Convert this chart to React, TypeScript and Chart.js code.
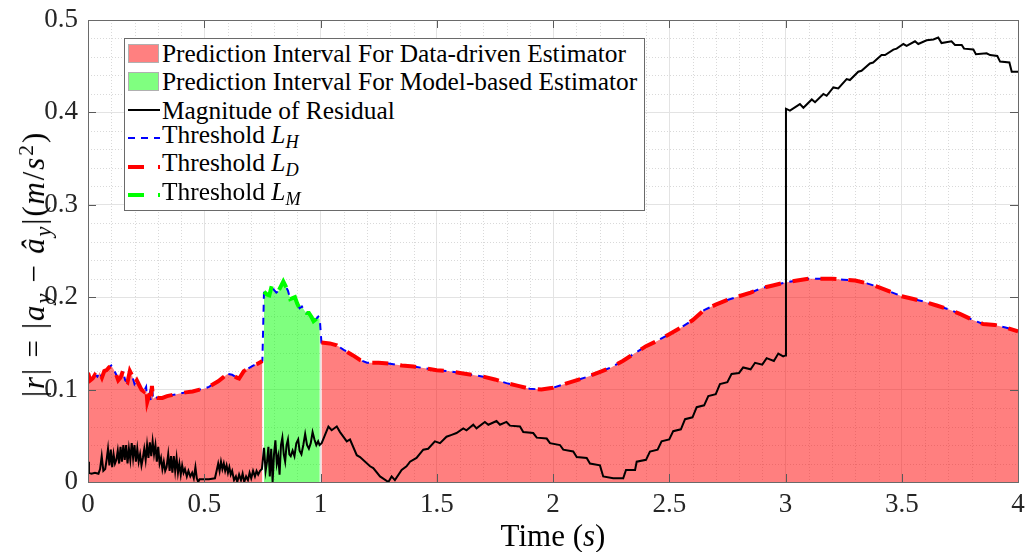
import React, { useEffect, useRef } from "react";
import { Chart, registerables } from "chart.js";

Chart.register(...registerables);

// ---------- data ----------
// Data-driven threshold L_D (segment 1: 0 - 0.75 s)
const thrTime1 = [0.0, 0.01, 0.02, 0.03, 0.04, 0.05, 0.06, 0.07, 0.08, 0.09, 0.1, 0.11, 0.12, 0.13, 0.14, 0.15, 0.16, 0.17, 0.18, 0.19, 0.2, 0.21, 0.22, 0.23, 0.24, 0.25, 0.255, 0.265, 0.27, 0.275, 0.28, 0.29, 0.3, 0.32, 0.34, 0.36, 0.38, 0.4, 0.42, 0.45, 0.48, 0.5, 0.52, 0.54, 0.56, 0.58, 0.6, 0.62, 0.64, 0.65, 0.67, 0.69, 0.71, 0.73, 0.75];
const thrVal1 = [0.118, 0.11, 0.112, 0.116, 0.114, 0.119, 0.113, 0.12, 0.121, 0.124, 0.126, 0.122, 0.117, 0.11, 0.113, 0.12, 0.11, 0.108, 0.12, 0.115, 0.106, 0.11, 0.105, 0.1, 0.098, 0.103, 0.087, 0.096, 0.088, 0.104, 0.09, 0.092, 0.091, 0.091, 0.093, 0.094, 0.095, 0.096, 0.097, 0.098, 0.1, 0.101, 0.103, 0.106, 0.109, 0.113, 0.117, 0.116, 0.113, 0.112, 0.12, 0.123, 0.126, 0.128, 0.131];
// Model-based threshold L_M (0.75 - 1.0 s)
const modTime = [0.757, 0.77, 0.78, 0.79, 0.8, 0.81, 0.82, 0.83, 0.84, 0.85, 0.86, 0.87, 0.88, 0.89, 0.9, 0.91, 0.92, 0.93, 0.94, 0.95, 0.96, 0.97, 0.98, 0.99, 0.997];
const modVal = [0.206, 0.203, 0.202, 0.212, 0.208, 0.205, 0.207, 0.212, 0.217, 0.212, 0.207, 0.198, 0.199, 0.2, 0.193, 0.188, 0.19, 0.186, 0.183, 0.183, 0.179, 0.174, 0.176, 0.179, 0.176];
// Data-driven threshold L_D (segment 2: 1.0 - 4.0 s)
const thrTime2 = [1.004, 1.04, 1.07, 1.1, 1.14, 1.17, 1.2, 1.25, 1.3, 1.35, 1.4, 1.45, 1.5, 1.55, 1.6, 1.65, 1.7, 1.75, 1.8, 1.85, 1.9, 1.95, 2.0, 2.05, 2.1, 2.15, 2.2, 2.25, 2.3, 2.35, 2.4, 2.45, 2.5, 2.55, 2.6, 2.65, 2.7, 2.75, 2.8, 2.85, 2.9, 2.95, 3.0, 3.05, 3.1, 3.15, 3.2, 3.25, 3.3, 3.35, 3.4, 3.45, 3.5, 3.55, 3.6, 3.65, 3.7, 3.75, 3.8, 3.85, 3.9, 3.95, 4.0];
const thrVal2 = [0.151, 0.15, 0.148, 0.143, 0.137, 0.132, 0.129, 0.129, 0.128, 0.126, 0.125, 0.123, 0.121, 0.12, 0.118, 0.116, 0.114, 0.111, 0.107, 0.104, 0.101, 0.1, 0.102, 0.106, 0.11, 0.114, 0.119, 0.124, 0.131, 0.139, 0.147, 0.153, 0.16, 0.167, 0.175, 0.186, 0.192, 0.197, 0.201, 0.205, 0.21, 0.213, 0.216, 0.218, 0.22, 0.22, 0.22, 0.219, 0.218, 0.215, 0.211, 0.206, 0.201, 0.198, 0.195, 0.191, 0.187, 0.182, 0.176, 0.171, 0.17, 0.167, 0.163];
// Magnitude of residual
const resTime = [0.0, 0.004, 0.015, 0.03, 0.045, 0.052, 0.059, 0.066, 0.074, 0.08, 0.086, 0.092, 0.098, 0.104, 0.11, 0.116, 0.122, 0.128, 0.134, 0.14, 0.146, 0.152, 0.158, 0.164, 0.17, 0.176, 0.182, 0.188, 0.194, 0.2, 0.206, 0.212, 0.218, 0.224, 0.23, 0.236, 0.242, 0.248, 0.254, 0.26, 0.266, 0.272, 0.278, 0.284, 0.29, 0.296, 0.302, 0.308, 0.314, 0.32, 0.326, 0.332, 0.338, 0.345, 0.351, 0.357, 0.363, 0.369, 0.375, 0.381, 0.387, 0.393, 0.399, 0.405, 0.411, 0.417, 0.425, 0.432, 0.44, 0.448, 0.455, 0.462, 0.468, 0.474, 0.48, 0.5, 0.52, 0.546, 0.553, 0.56, 0.566, 0.572, 0.578, 0.584, 0.59, 0.596, 0.602, 0.608, 0.614, 0.62, 0.628, 0.636, 0.642, 0.65, 0.658, 0.665, 0.672, 0.68, 0.688, 0.695, 0.702, 0.71, 0.718, 0.725, 0.732, 0.74, 0.748, 0.757, 0.764, 0.77, 0.776, 0.782, 0.788, 0.794, 0.8, 0.806, 0.812, 0.818, 0.824, 0.83, 0.836, 0.842, 0.848, 0.854, 0.86, 0.866, 0.872, 0.88, 0.888, 0.896, 0.904, 0.91, 0.918, 0.926, 0.934, 0.942, 0.95, 0.958, 0.966, 0.974, 0.982, 0.99, 0.996, 1.005, 1.034, 1.048, 1.07, 1.084, 1.113, 1.127, 1.156, 1.17, 1.213, 1.227, 1.256, 1.292, 1.306, 1.32, 1.349, 1.37, 1.385, 1.413, 1.442, 1.463, 1.492, 1.514, 1.542, 1.564, 1.585, 1.614, 1.628, 1.657, 1.671, 1.707, 1.722, 1.757, 1.772, 1.8, 1.815, 1.858, 1.872, 1.915, 1.93, 1.973, 1.987, 2.03, 2.044, 2.087, 2.102, 2.145, 2.159, 2.202, 2.216, 2.259, 2.302, 2.314, 2.353, 2.36, 2.4, 2.417, 2.45, 2.467, 2.5, 2.517, 2.55, 2.568, 2.6, 2.618, 2.65, 2.668, 2.7, 2.718, 2.75, 2.768, 2.8, 2.818, 2.85, 2.869, 2.9, 2.919, 2.95, 2.969, 2.99, 3.0, 3.002, 3.019, 3.062, 3.077, 3.113, 3.127, 3.163, 3.177, 3.206, 3.227, 3.263, 3.277, 3.313, 3.327, 3.363, 3.377, 3.413, 3.428, 3.464, 3.478, 3.507, 3.521, 3.557, 3.571, 3.607, 3.636, 3.657, 3.671, 3.714, 3.729, 3.758, 3.768, 3.808, 3.819, 3.865, 3.88, 3.911, 3.923, 3.963, 3.973, 4.0];
const resVal = [0.022, 0.01, 0.009, 0.01, 0.009, 0.014, 0.028, 0.012, 0.014, 0.024, 0.036, 0.018, 0.035, 0.016, 0.03, 0.02, 0.024, 0.034, 0.02, 0.038, 0.022, 0.04, 0.024, 0.04, 0.02, 0.036, 0.024, 0.042, 0.026, 0.04, 0.022, 0.036, 0.022, 0.03, 0.018, 0.026, 0.036, 0.024, 0.04, 0.026, 0.043, 0.028, 0.044, 0.03, 0.04, 0.022, 0.038, 0.02, 0.026, 0.014, 0.022, 0.012, 0.016, 0.03, 0.012, 0.028, 0.01, 0.028, 0.012, 0.026, 0.01, 0.02, 0.008, 0.018, 0.01, 0.014, 0.006, 0.012, 0.006, 0.01, 0.004, 0.016, 0.004, 0.0, 0.003, 0.003, 0.003, 0.004, 0.012, 0.02, 0.012, 0.022, 0.014, 0.02, 0.012, 0.018, 0.01, 0.016, 0.008, 0.012, 0.002, 0.006, 0.0, 0.008, 0.002, 0.009, 0.0, 0.006, 0.002, 0.01, 0.004, 0.012, 0.006, 0.012, 0.008, 0.012, 0.014, 0.037, 0.012, 0.022, 0.038, 0.006, 0.036, 0.0, 0.03, 0.045, 0.02, 0.028, 0.008, 0.04, 0.048, 0.03, 0.022, 0.04, 0.046, 0.03, 0.028, 0.034, 0.028, 0.042, 0.046, 0.034, 0.03, 0.04, 0.052, 0.04, 0.036, 0.042, 0.054, 0.046, 0.04, 0.044, 0.04, 0.042, 0.06, 0.056, 0.06, 0.054, 0.044, 0.046, 0.029, 0.027, 0.017, 0.015, 0.006, 0.0, 0.006, 0.002, 0.013, 0.017, 0.022, 0.026, 0.035, 0.036, 0.044, 0.042, 0.049, 0.051, 0.053, 0.058, 0.056, 0.062, 0.058, 0.065, 0.062, 0.066, 0.062, 0.065, 0.061, 0.06, 0.054, 0.053, 0.048, 0.047, 0.042, 0.04, 0.035, 0.033, 0.027, 0.026, 0.02, 0.018, 0.006, 0.004, 0.004, 0.013, 0.013, 0.022, 0.024, 0.033, 0.035, 0.044, 0.046, 0.055, 0.057, 0.068, 0.07, 0.081, 0.083, 0.093, 0.095, 0.106, 0.108, 0.117, 0.118, 0.124, 0.122, 0.129, 0.127, 0.134, 0.131, 0.139, 0.136, 0.137, 0.404, 0.402, 0.409, 0.405, 0.414, 0.411, 0.42, 0.418, 0.427, 0.426, 0.436, 0.435, 0.444, 0.445, 0.453, 0.454, 0.462, 0.462, 0.468, 0.469, 0.474, 0.472, 0.477, 0.474, 0.478, 0.479, 0.481, 0.475, 0.477, 0.473, 0.473, 0.469, 0.468, 0.463, 0.464, 0.462, 0.461, 0.455, 0.454, 0.444, 0.444];

const xMin = 0;
const xMax = 4;
const yMin = 0;
const yMax = 0.5;
const xMajorStep = 0.5;
const yMajorStep = 0.1;
const xMinorStep = 0.1;
const yMinorStep = 0.02;

const SERIF = '"Liberation Serif", "DejaVu Serif", serif';
const AXIS_COLOR = "#262626";

const pts = (t: number[], v: number[]) => t.map((x, i) => ({ x, y: v[i] }));
const fmt = (v: any) => String(Math.round(Number(v) * 1000) / 1000);

// minor grid (dotted), inner tick marks and axes box
const axesPlugin = {
  id: "matlabAxes",
  beforeDatasetsDraw(chart: any) {
    const { ctx, chartArea: a, scales } = chart;
    const xs = scales.x;
    const ys = scales.y;
    ctx.save();
    ctx.strokeStyle = "#d9d9d9";
    ctx.lineWidth = 1;
    ctx.setLineDash([1, 2]);
    const nx = Math.round((xMax - xMin) / xMinorStep);
    for (let i = 1; i < nx; i++) {
      if (i % 5 === 0) continue;
      const px = Math.round(xs.getPixelForValue(xMin + i * xMinorStep)) + 0.5;
      ctx.beginPath();
      ctx.moveTo(px, a.top);
      ctx.lineTo(px, a.bottom);
      ctx.stroke();
    }
    const ny = Math.round((yMax - yMin) / yMinorStep);
    for (let i = 1; i < ny; i++) {
      if (i % 5 === 0) continue;
      const py = Math.round(ys.getPixelForValue(yMin + i * yMinorStep)) + 0.5;
      ctx.beginPath();
      ctx.moveTo(a.left, py);
      ctx.lineTo(a.right, py);
      ctx.stroke();
    }
    ctx.restore();
  },
  afterDatasetsDraw(chart: any) {
    const { ctx, chartArea: a, scales } = chart;
    const xs = scales.x;
    const ys = scales.y;
    ctx.save();
    ctx.strokeStyle = "#5a5a5a";
    ctx.lineWidth = 1;
    ctx.setLineDash([]);
    const tl = 8;
    const nx = Math.round((xMax - xMin) / xMajorStep);
    for (let i = 1; i < nx; i++) {
      const px = Math.round(xs.getPixelForValue(xMin + i * xMajorStep)) + 0.5;
      ctx.beginPath();
      ctx.moveTo(px, a.bottom);
      ctx.lineTo(px, a.bottom - tl);
      ctx.moveTo(px, a.top);
      ctx.lineTo(px, a.top + tl);
      ctx.stroke();
    }
    const ny = Math.round((yMax - yMin) / yMajorStep);
    for (let i = 1; i < ny; i++) {
      const py = Math.round(ys.getPixelForValue(yMin + i * yMajorStep)) + 0.5;
      ctx.beginPath();
      ctx.moveTo(a.left, py);
      ctx.lineTo(a.left + tl, py);
      ctx.moveTo(a.right, py);
      ctx.lineTo(a.right - tl, py);
      ctx.stroke();
    }
    ctx.strokeStyle = "#6a6a6a";
    ctx.strokeRect(Math.round(a.left) + 0.5, Math.round(a.top) + 0.5, Math.round(a.right - a.left), Math.round(a.bottom - a.top));
    ctx.restore();
  },
};

function LineSwatch({ color, width, dash }: { color: string; width: number; dash?: string }) {
  return (
    <svg width={32} height={12} style={{ display: "block" }}>
      <line x1={0} y1={6} x2={32} y2={6} stroke={color} strokeWidth={width} strokeDasharray={dash} />
    </svg>
  );
}

function PatchSwatch({ color }: { color: string }) {
  return <div style={{ width: 31, height: 19, background: color, border: "1px solid #b0b0b0", boxSizing: "border-box" }} />;
}

const sub: React.CSSProperties = { fontSize: "0.72em", verticalAlign: "-0.3em", fontStyle: "italic" };
const op: React.CSSProperties = { margin: "0 0.3em" };

export default function App() {
  const canvasRef = useRef<HTMLCanvasElement | null>(null);

  useEffect(() => {
    const canvas = canvasRef.current;
    if (!canvas) return;
    const lH = [...pts(thrTime1, thrVal1), ...pts(modTime, modVal), ...pts(thrTime2, thrVal2)];
    const chart = new Chart(canvas, {
      type: "line",
      data: {
        datasets: [
          {
            label: "Threshold L_D (a)",
            data: pts(thrTime1, thrVal1),
            borderColor: "#ff0000",
            borderWidth: 4,
            borderDash: [16, 12],
            pointRadius: 0,
            fill: false,
            order: 1,
          },
          {
            label: "Threshold L_D (b)",
            data: pts(thrTime2, thrVal2),
            borderColor: "#ff0000",
            borderWidth: 4,
            borderDash: [16, 12],
            pointRadius: 0,
            fill: false,
            order: 1,
          },
          {
            label: "Threshold L_M",
            data: pts(modTime, modVal),
            borderColor: "#00ff00",
            borderWidth: 4,
            borderDash: [16, 12],
            pointRadius: 0,
            fill: false,
            order: 1,
          },
          {
            label: "Threshold L_H",
            data: lH,
            borderColor: "#0000ff",
            borderWidth: 2,
            borderDash: [7, 6],
            pointRadius: 0,
            fill: false,
            order: 2,
          },
          {
            label: "Magnitude of Residual",
            data: pts(resTime, resVal),
            borderColor: "#000000",
            borderWidth: 2,
            pointRadius: 0,
            fill: false,
            order: 3,
          },
          {
            label: "PI Data-driven (a)",
            data: pts(thrTime1, thrVal1),
            borderWidth: 0,
            borderColor: "rgba(0,0,0,0)",
            backgroundColor: "rgba(255,0,0,0.5)",
            pointRadius: 0,
            fill: "origin",
            order: 10,
          },
          {
            label: "PI Data-driven (b)",
            data: pts(thrTime2, thrVal2),
            borderWidth: 0,
            borderColor: "rgba(0,0,0,0)",
            backgroundColor: "rgba(255,0,0,0.5)",
            pointRadius: 0,
            fill: "origin",
            order: 10,
          },
          {
            label: "PI Model-based",
            data: pts(modTime, modVal),
            borderWidth: 0,
            borderColor: "rgba(0,0,0,0)",
            backgroundColor: "rgba(0,255,0,0.5)",
            pointRadius: 0,
            fill: "origin",
            order: 10,
          },
        ],
      },
      options: {
        animation: false,
        responsive: false,
        maintainAspectRatio: false,
        layout: { padding: { left: 0, top: 20, right: 8, bottom: 0 } },
        plugins: { legend: { display: false }, tooltip: { enabled: false } },
        elements: { line: { tension: 0, borderCapStyle: "butt", borderJoinStyle: "miter" } },
        scales: {
          x: {
            type: "linear",
            min: xMin,
            max: xMax,
            border: { display: false },
            grid: { color: "#e3e3e3", lineWidth: 1, drawTicks: false },
            ticks: {
              stepSize: xMajorStep,
              maxRotation: 0,
              padding: 7,
              color: AXIS_COLOR,
              font: { family: SERIF, size: 27 },
              callback: (v: any) => fmt(v),
            },
            afterFit: (s: any) => {
              s.height = 70;
              s.paddingRight = 0;
              s.paddingLeft = 0;
            },
          },
          y: {
            type: "linear",
            min: yMin,
            max: yMax,
            border: { display: false },
            grid: { color: "#e3e3e3", lineWidth: 1, drawTicks: false },
            ticks: {
              stepSize: yMajorStep,
              padding: 10,
              color: AXIS_COLOR,
              font: { family: SERIF, size: 27 },
              callback: (v: any) => fmt(v),
            },
            afterFit: (s: any) => {
              s.width = 88;
              s.paddingTop = 0;
              s.paddingBottom = 0;
            },
          },
        },
      },
      plugins: [axesPlugin],
    } as any);
    return () => chart.destroy();
  }, []);

  const rows: { swatch: React.ReactNode; text: React.ReactNode }[] = [
    { swatch: <PatchSwatch color="#ff8080" />, text: "Prediction Interval For Data-driven Estimator" },
    { swatch: <PatchSwatch color="#80ff80" />, text: "Prediction Interval For Model-based Estimator" },
    { swatch: <LineSwatch color="#000" width={2} />, text: "Magnitude of Residual" },
    {
      swatch: <LineSwatch color="#0000ff" width={2} dash="7 6" />,
      text: (
        <span>
          Threshold <i>L</i>
          <span style={sub}>H</span>
        </span>
      ),
    },
    {
      swatch: <LineSwatch color="#ff0000" width={4} dash="16 14" />,
      text: (
        <span>
          Threshold <i>L</i>
          <span style={sub}>D</span>
        </span>
      ),
    },
    {
      swatch: <LineSwatch color="#00ff00" width={4} dash="16 14" />,
      text: (
        <span>
          Threshold <i>L</i>
          <span style={sub}>M</span>
        </span>
      ),
    },
  ];

  return (
    <div style={{ position: "fixed", left: 0, top: 0, width: 1026, height: 552, background: "#fff", fontFamily: SERIF, color: "#000" }}>
      <canvas ref={canvasRef} width={1026} height={552} style={{ position: "absolute", left: 0, top: 0 }} />
      {/* legend */}
      <div
        style={{
          position: "absolute",
          left: 124,
          top: 38,
          width: 521,
          height: 173,
          background: "#fff",
          border: "1px solid #6a6a6a",
          boxSizing: "border-box",
        }}
      >
        {rows.map((r, i) => (
          <div
            key={i}
            style={{
              position: "absolute",
              left: 0,
              top: i * 28.4,
              height: 28,
              width: "100%",
              display: "flex",
              alignItems: "center",
            }}
          >
            <div style={{ position: "absolute", left: 3, width: 32, display: "flex", alignItems: "center" }}>{r.swatch}</div>
            <div style={{ position: "absolute", left: 37, fontSize: 25.4, whiteSpace: "nowrap", lineHeight: "28px" }}>{r.text}</div>
          </div>
        ))}
      </div>
      {/* y axis title */}
      <div
        style={{
          position: "absolute",
          left: 35,
          top: 264,
          transform: "translate(-50%, -50%) rotate(-90deg)",
          whiteSpace: "nowrap",
          fontSize: 31,
          lineHeight: "34px",
          letterSpacing: "0.06em",
        }}
      >
        |<i>r</i>|<span style={op}>=</span>|<i>a</i>
        <span style={sub}>y</span>
        <span style={op}>−</span>
        <i>â</i>
        <span style={sub}>y</span>|(<i>m</i>/<i>s</i>
        <sup style={{ fontSize: "0.7em" }}>2</sup>)
      </div>
      {/* x axis title */}
      <div
        style={{
          position: "absolute",
          left: 553,
          top: 536,
          transform: "translate(-50%, -50%)",
          whiteSpace: "nowrap",
          fontSize: 31,
          lineHeight: "32px",
        }}
      >
        Time (<i>s</i>)
      </div>
    </div>
  );
}
